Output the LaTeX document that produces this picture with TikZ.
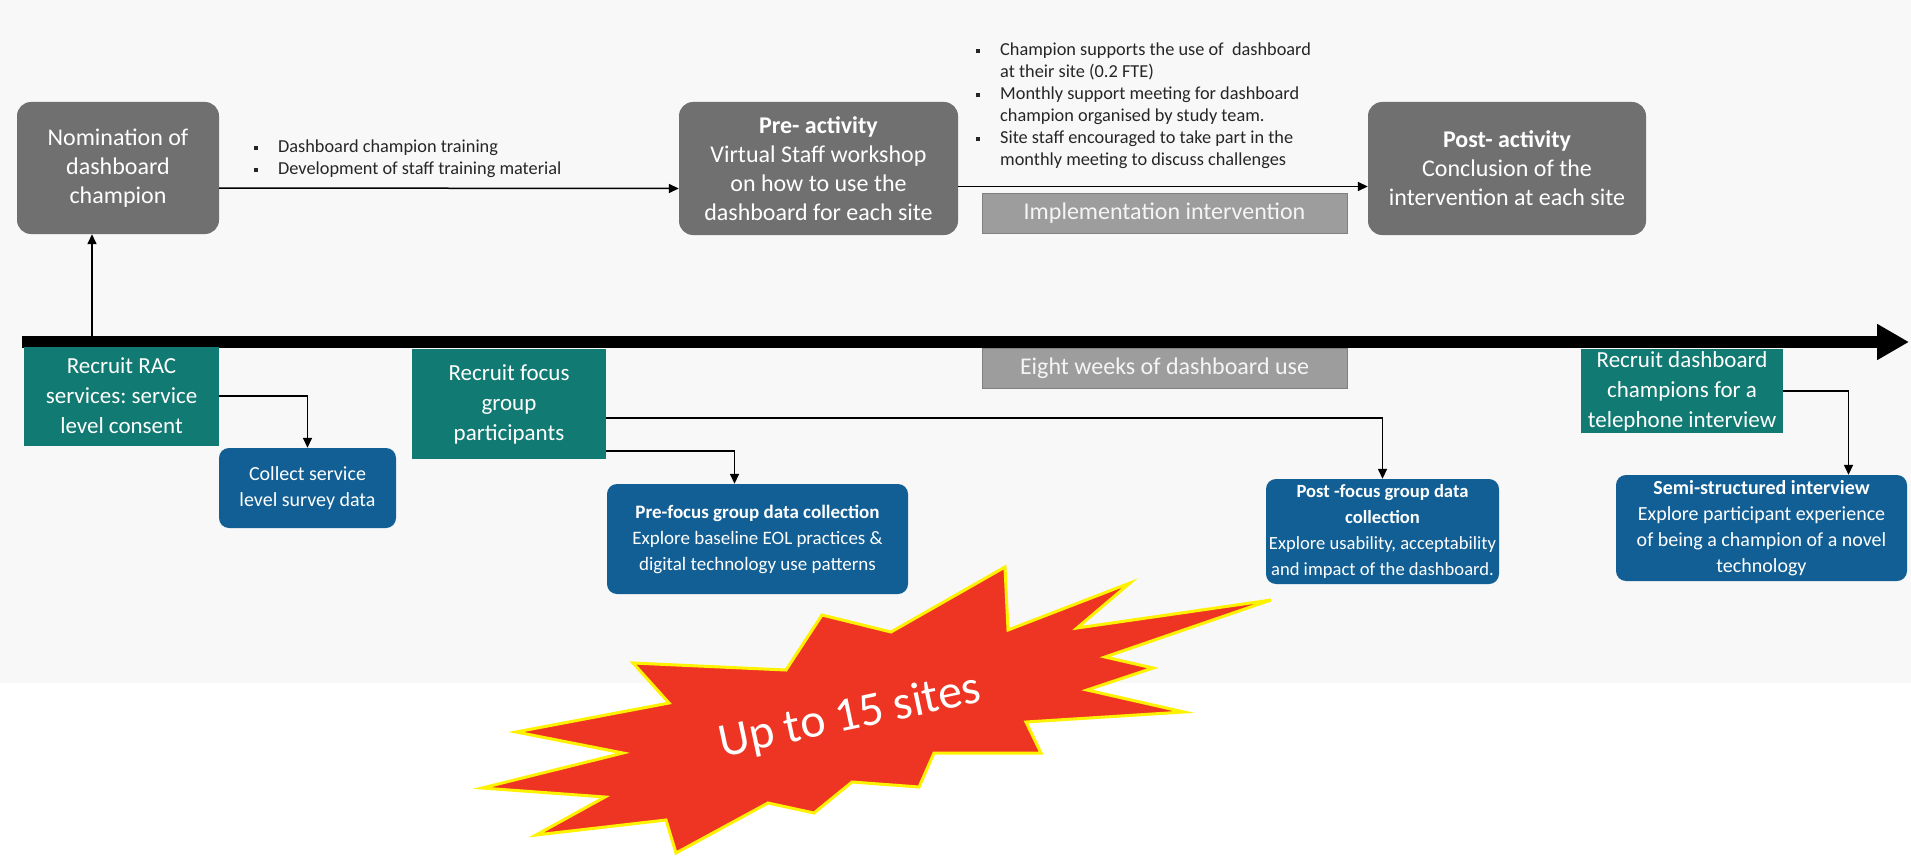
\documentclass[tikz,border=0pt]{standalone}
\usepackage{fontspec}
\setmainfont{Carlito}
\usetikzlibrary{arrows.meta}
\frenchspacing

\definecolor{boxgray}{HTML}{707070}
\definecolor{bargray}{HTML}{9D9D9D}
\definecolor{recteal}{HTML}{117A72}
\definecolor{colblue}{HTML}{115F94}
\definecolor{burstred}{HTML}{EE3524}
\definecolor{burstedge}{HTML}{FFF200}
\definecolor{bgpaper}{HTML}{F8F8F8}

\newcommand{\bitem}{\makebox[24pt][l]{\raisebox{2.5pt}{\rule{4pt}{4pt}}}}
\newcommand{\bgap}{\hspace*{24pt}}

\begin{document}
\begin{tikzpicture}[x=1pt,y=-1pt,
  graybox/.style={fill=boxgray, rounded corners=14pt, text=white, align=center, inner sep=0pt, font=\fontsize{24}{29}\selectfont},
  barbox/.style={fill=bargray, draw=gray, text=white!92!gray, inner sep=0pt, minimum width=365pt, minimum height=40pt, font=\fontsize{24}{28}\selectfont},
  tealbox/.style={fill=recteal, text=white, align=center, inner sep=0pt, font=\fontsize{23}{30}\selectfont},
  bluebox/.style={fill=colblue, rounded corners=10pt, text=white, align=center, inner sep=0pt, font=\fontsize{20}{26}\selectfont},
  notes/.style={align=left, inner sep=0pt, text=black!85, font=\fontsize{18.3}{22}\selectfont},
  conn/.style={line width=1.5pt, -{Triangle[length=10pt,width=9pt]}}]

% define page and paper
\useasboundingbox (0,0) rectangle (1911,856);
\fill[bgpaper] (0,0) rectangle (1911,683);

% set up coordinates
\coordinate (tl0) at (22,342);
\coordinate (tl1) at (1909,342);
\coordinate (up0) at (92,336);

% draw the time line
\draw[line width=12pt, -{Triangle[length=32pt,width=34pt]}] (tl0) -- (tl1);

% draw intervention boxes
\node[graybox, minimum width=202pt, minimum height=132pt] (nom) at (118,168) {Nomination of\\dashboard\\champion};
\node[graybox, minimum width=279pt, minimum height=133pt] (pre) at (818.5,168.5) {\textbf{Pre- activity}\\Virtual Staff workshop\\on how to use the\\dashboard for each site};
\node[graybox, minimum width=278pt, minimum height=133pt] (post) at (1507,168.5) {\textbf{Post- activity}\\Conclusion of the\\intervention at each site};
\node[barbox] (impl) at (1164.5,213) {Implementation intervention};
\node[barbox] (eight) at (1164.5,368) {Eight weeks of dashboard use};

% draw notes
\node[notes, anchor=west] (train) at (254,159) {\bitem Dashboard champion training\\\bitem Development of staff training material};
\node[notes, anchor=west] (support) at (976,106) {\bitem Champion supports the use of\ \ dashboard\\\bgap at their site (0.2 FTE)\\\bitem Monthly support meeting for dashboard\\\bgap champion organised by study team.\\\bitem Site staff encouraged to take part in the\\\bgap monthly meeting to discuss challenges};

% draw recruitment and data boxes
\node[tealbox, minimum width=195pt, minimum height=99pt] (rac) at (121.5,396) {Recruit RAC\\services: service\\level consent};
\node[bluebox, minimum width=177pt, minimum height=80pt] (survey) at (307.5,488) {Collect service\\level survey data};
\node[tealbox, minimum width=194pt, minimum height=110pt] (focus) at (509,404) {Recruit focus\\group\\participants};
\node[bluebox, minimum width=301pt, minimum height=110pt, font=\fontsize{19}{26}\selectfont] (prefocus) at (757.5,539) {\textbf{Pre-focus group data collection}\\Explore baseline EOL practices \&\\digital technology use patterns};
\node[bluebox, minimum width=233pt, minimum height=105pt, font=\fontsize{18.6}{26}\selectfont] (postfocus) at (1382.5,531.5) {\textbf{Post -focus group data}\\\textbf{collection}\\Explore usability, acceptability\\and impact of the dashboard.};
\node[tealbox, minimum width=202pt, minimum height=84pt] (champ) at (1682,391) {Recruit dashboard\\champions for a\\telephone interview};
\node[bluebox, minimum width=291pt, minimum height=106pt] (semi) at (1761.5,528) {\textbf{Semi-structured interview}\\Explore participant experience\\of being a champion of a novel\\technology};

% draw connectors
\draw[conn] (up0) -- (up0 |- nom.south);
\draw[conn] ([yshift=-20pt]nom.east) -- ([yshift=-20pt]pre.west);
\draw[conn] ([yshift=-18pt]pre.east) -- ([yshift=-18pt]post.west);
\draw[conn] (rac.east) -| (survey.north);
\draw[conn] ([yshift=-47pt]focus.east) -| ([xshift=-23pt]prefocus.north);
\draw[conn] ([yshift=-14pt]focus.east) -| (postfocus.north);
\draw[conn] (champ.east) -| ([xshift=87pt]semi.north);

% draw the burst
\filldraw[fill=burstred, draw=burstedge, line width=3pt, line join=miter]
  (633,663) -- (786,670) -- (822,615) -- (891,632) -- (1005,567) -- (1008,630)
  -- (1130,583) -- (1077,628) -- (1271,600) -- (1105,657) -- (1153,668) -- (1087,690)
  -- (1184,712) -- (1026,722) -- (1041,753) -- (934,753) -- (919,787) -- (852,782)
  -- (814,813) -- (768,803) -- (676,853) -- (666,820) -- (536,835) -- (605,797)
  -- (482,788) -- (623,753) -- (516,732) -- (669,703) -- cycle;
\node[rotate=12, text=white, font=\fontsize{48}{58}\selectfont] (sites) at (850,717) {Up to 15 sites};

\end{tikzpicture}
\end{document}
